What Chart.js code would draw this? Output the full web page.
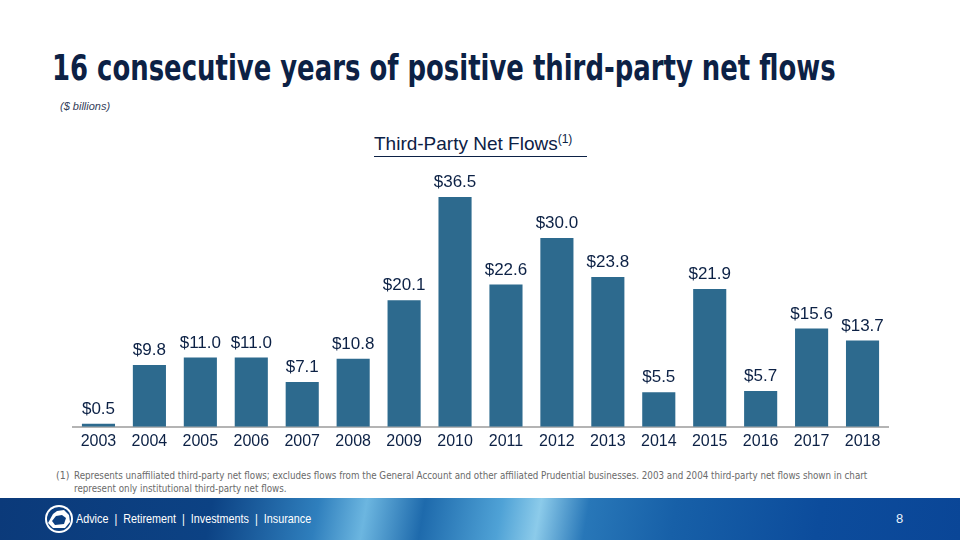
<!DOCTYPE html>
<html>
<head>
<meta charset="utf-8">
<script src="https://cdn.jsdelivr.net/npm/chart.js@4.4.1/dist/chart.umd.min.js"></script>
<style>
  html, body { margin: 0; padding: 0; background: #fff; }
  body { width: 960px; height: 540px; position: relative; overflow: hidden; font-family: "Liberation Sans", Arial, sans-serif; }
  .fit { transform-origin: 0 0; white-space: nowrap; }
  #title { position: absolute; left: 52px; top: 50px; font-family: "DejaVu Sans Condensed", "Liberation Sans", sans-serif; font-weight: bold; font-size: 36px; line-height: 36px; color: #0c2145; }
  #units { position: absolute; left: 60px; top: 100px; font-style: italic; font-size: 11px; color: #33405a; }
  #ctitle { position: absolute; left: 374px; top: 133px; width: 213px; font-size: 19px; color: #0c2145; border-bottom: 1.5px solid #0c2145; padding-bottom: 1px; white-space: nowrap; }
  #ctitle sup { font-size: 12px; vertical-align: 7px; line-height: 0; }
  #chart { position: absolute; left: 0; top: 160px; width: 960px; height: 300px; }
  #note { position: absolute; left: 56px; top: 469px; font-family: "DejaVu Sans Condensed", "Liberation Sans", sans-serif; font-size: 10.5px; color: #6a6a6a; line-height: 13px; }
  #note .n { position: absolute; left: 0; top: 0; }
  #note .t { margin-left: 18px; }
  #band { position: absolute; left: 0; top: 498px; width: 960px; height: 42px;
    background: linear-gradient(100deg, #0b3a7a 0%, #0c4284 22%, #2f7fbd 33%, #6cb6e0 38%, #1e6aac 44%, #4fa2d6 52%, #8ccbea 56%, #2877b8 61%, #1760a8 70%, #0c4c9c 85%, #0a4697 100%); }
  #band .txt { position: absolute; left: 76px; top: 13px; font-family: "Liberation Sans", Arial, sans-serif; font-size: 13px; color: #fff; }
  #band .pg { position: absolute; left: 896px; top: 13px; font-size: 13px; color: #e8f2fa; }
  #logo { position: absolute; left: 44px; top: 5px; }
</style>
</head>
<body>
<div id="title" class="fit" data-w="784">16 consecutive years of positive third-party net flows</div>
<div id="units">($ billions)</div>
<div id="ctitle">Third-Party Net Flows<sup>(1)</sup></div>
<div id="chart"><canvas id="flowsChart"></canvas></div>
<div id="note"><span class="n">(1)</span><div class="t fit" data-w="793">Represents unaffiliated third-party net flows; excludes flows from the General Account and other affiliated Prudential businesses. 2003 and 2004 third-party net flows shown in chart</div><div class="t fit">represent only institutional third-party net flows.</div></div>
<div id="band">
  <svg id="logo" width="30" height="32" viewBox="0 0 30 32">
    <circle cx="15" cy="16" r="14" fill="#fff"/>
    <circle cx="15" cy="16" r="12" fill="#0c3f80"/>
    <path d="M4 20 L9 11 L13 8 L20 7 L25 12 L26 19 L21 25 L9 25 Z" fill="#fff"/>
    <path d="M8 18 L12 13 L18 12 L22 15 L20 21 L11 22 Z" fill="#0c3f80"/>
  </svg>
  <div class="txt fit" data-w="235">Advice&nbsp; |&nbsp; Retirement&nbsp; |&nbsp; Investments&nbsp; |&nbsp; Insurance</div>
  <div class="pg">8</div>
</div>
<script>
var years = ['2003', '2004', '2005', '2006', '2007', '2008', '2009', '2010',
             '2011', '2012', '2013', '2014', '2015', '2016', '2017', '2018'];
var netFlows = [0.5, 9.8, 11.0, 11.0, 7.1, 10.8, 20.1, 36.5,
                22.6, 30.0, 23.8, 5.5, 21.9, 5.7, 15.6, 13.7];

// squeeze text to the widths measured on the slide
// (an element without data-w reuses the scale of the one before it)
function fitText() {
    var scale = 1;
    document.querySelectorAll('.fit').forEach(function(el) {
        if (el.dataset.w) {
            scale = el.dataset.w / el.scrollWidth;
        }
        el.style.width = el.scrollWidth + 'px';
        el.style.transform = 'scaleX(' + scale + ')';
    });
}

document.addEventListener("DOMContentLoaded", function() {
    fitText();

    // value labels above the bars
    var barLabels = {
        id: 'barLabels',
        afterDatasetsDraw: function(chart) {
            var ctx = chart.ctx;
            var meta = chart.getDatasetMeta(0);
            ctx.save();
            ctx.font = '17px "Liberation Sans", Arial, sans-serif';
            ctx.fillStyle = '#0c2145';
            ctx.textAlign = 'center';
            ctx.textBaseline = 'bottom';
            meta.data.forEach(function(bar, i) {
                ctx.fillText('$' + netFlows[i].toFixed(1), bar.x, bar.y - 6);
            });
            ctx.restore();
        }
    };

    var ctx = document.getElementById('flowsChart').getContext('2d');
    var flowsChart = new Chart(ctx, {
        type: 'bar',
        data: {
            labels: years,
            datasets: [{
                label: 'Third-Party Net Flows',
                data: netFlows,
                backgroundColor: '#2d6a8e',
                borderWidth: 0,
                categoryPercentage: 1.0,
                barPercentage: 0.65
            }]
        },
        options: {
            responsive: true,
            maintainAspectRatio: false,
            animation: false,
            layout: {
                padding: { left: 73, right: 72, top: 15, bottom: 4 }
            },
            plugins: {
                legend: { display: false },
                tooltip: { enabled: false }
            },
            scales: {
                x: {
                    grid: { display: false, drawTicks: false },
                    border: { display: true, color: '#b4b4b4', width: 2 },
                    ticks: {
                        color: '#0c2145',
                        padding: 5,
                        font: { size: 16, family: '"Liberation Sans", Arial, sans-serif' }
                    }
                },
                y: {
                    display: false,
                    min: 0,
                    max: 40
                }
            }
        },
        plugins: [barLabels]
    });
});
</script>
</body>
</html>
